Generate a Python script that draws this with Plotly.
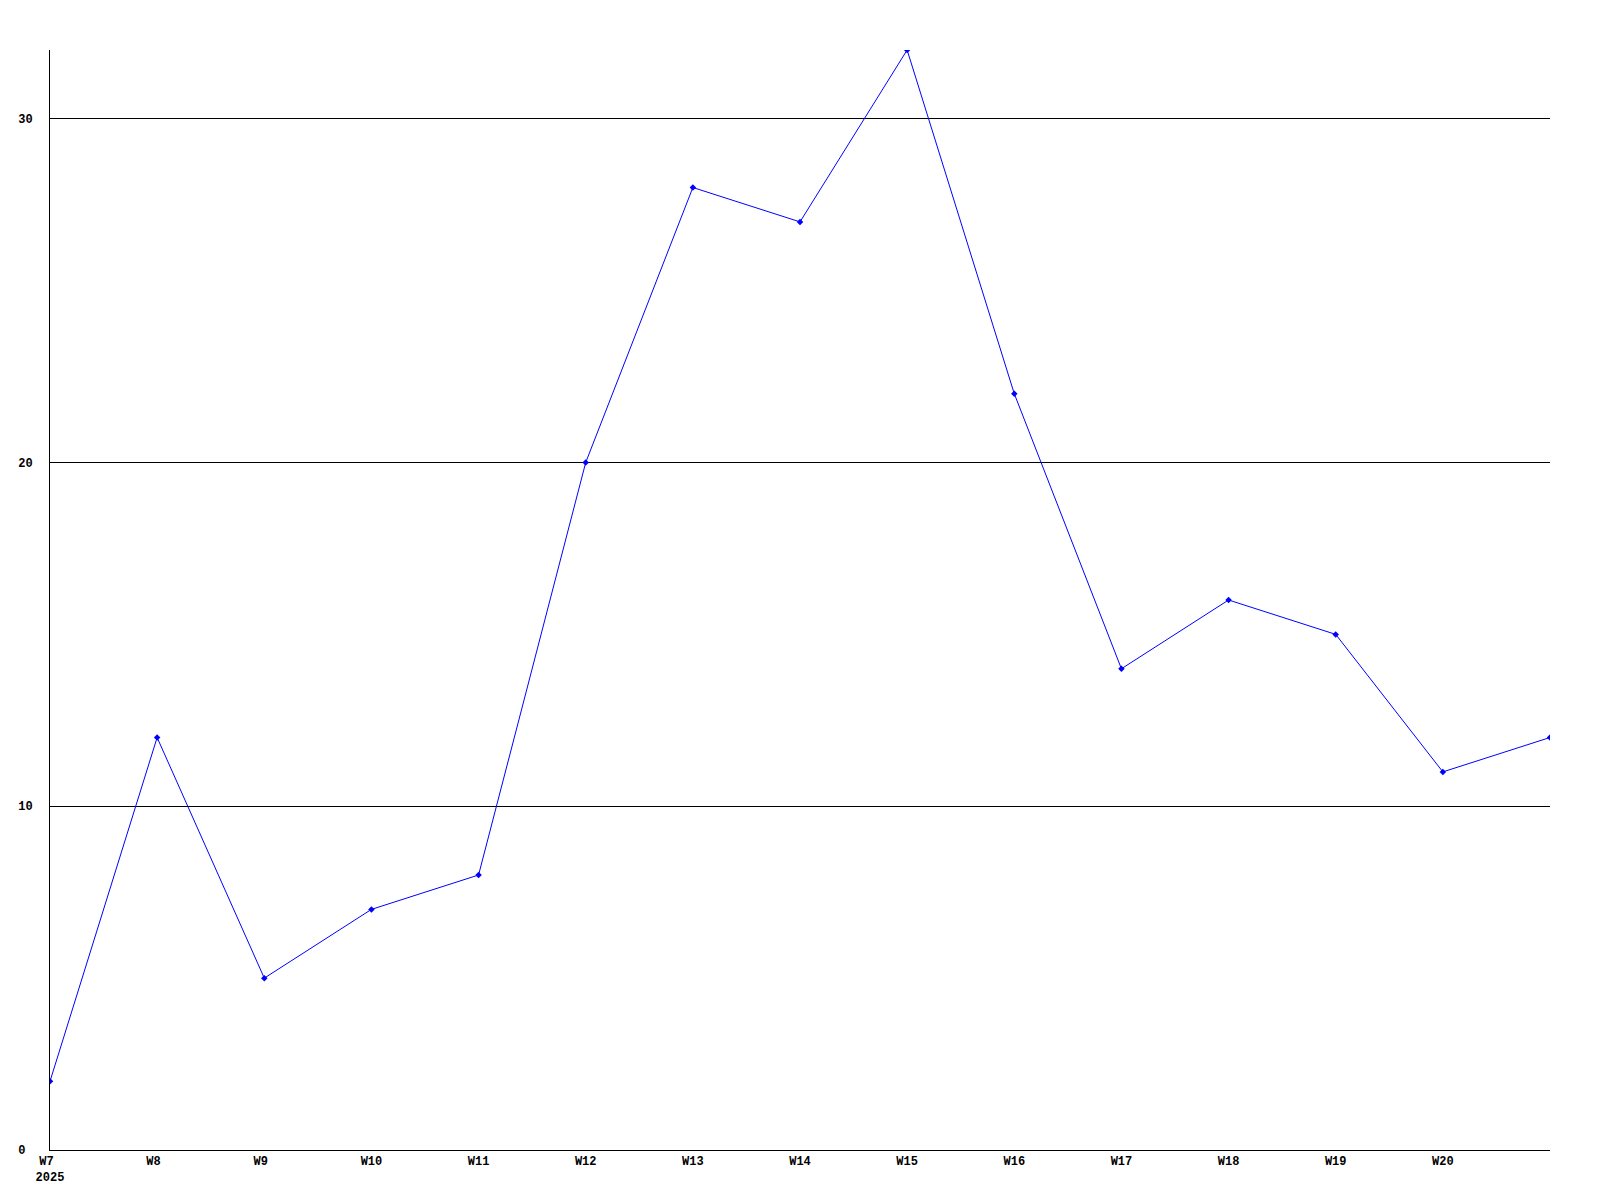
import plotly.graph_objects as go

weeks = ["W7", "W8", "W9", "W10", "W11", "W12", "W13", "W14", "W15", "W16", "W17", "W18", "W19", "W20", "W21"]
values = [2, 12, 5, 7, 8, 20, 28, 27, 32, 22, 14, 16, 15, 11, 12]
tick_labels = ["W7", "W8", "W9", "W10", "W11", "W12", "W13", "W14", "W15", "W16", "W17", "W18", "W19", "W20"]
year_label = "2025"
y_ticks = [0, 10, 20, 30]
y_tick_labels = ["0", "10", "20", "30"]

x = list(range(len(weeks)))


def pad(s, n):
    return s + "\u00a0" * (n - len(s))


x_text = []
for i, t in enumerate(tick_labels):
    if i == 0:
        x_text.append("<b>%s<br>%s</b>" % (pad(t, 3), year_label))
    else:
        x_text.append("<b>%s</b>" % pad(t, 3))

fig = go.Figure()
fig.add_trace(go.Scatter(
    x=x, y=values, mode="lines+markers",
    line=dict(color="#0000ff", width=1),
    marker=dict(symbol="diamond", size=5, color="#0000ff"),
    cliponaxis=True,
    hoverinfo="skip",
))

font = dict(family="Liberation Mono, DejaVu Sans Mono, monospace", size=12, color="black")

fig.update_layout(
    width=1600, height=1200,
    margin=dict(l=42, r=58, t=42, b=58, autoexpand=False),
    paper_bgcolor="white", plot_bgcolor="white",
    showlegend=False,
    font=font,
)
fig.update_xaxes(
    range=[0, len(weeks) - 1],
    tickmode="array", tickvals=x[:len(tick_labels)], ticktext=x_text,
    showgrid=False, zeroline=False,
    showline=True, linecolor="black", linewidth=1,
    ticks="", ticklen=0,
    tickfont=font,
    automargin=False,
)
fig.update_yaxes(
    range=[0, 32],
    tickmode="array", tickvals=y_ticks, ticktext=["<b>%s</b>" % pad(t, 2) for t in y_tick_labels],
    showgrid=True, gridcolor="black", gridwidth=1,
    zeroline=False,
    showline=True, linecolor="black", linewidth=1,
    ticks="outside", ticklen=14, tickcolor="rgba(0,0,0,0)",
    tickfont=font,
    automargin=False,
)

fig.write_html("out.html")
